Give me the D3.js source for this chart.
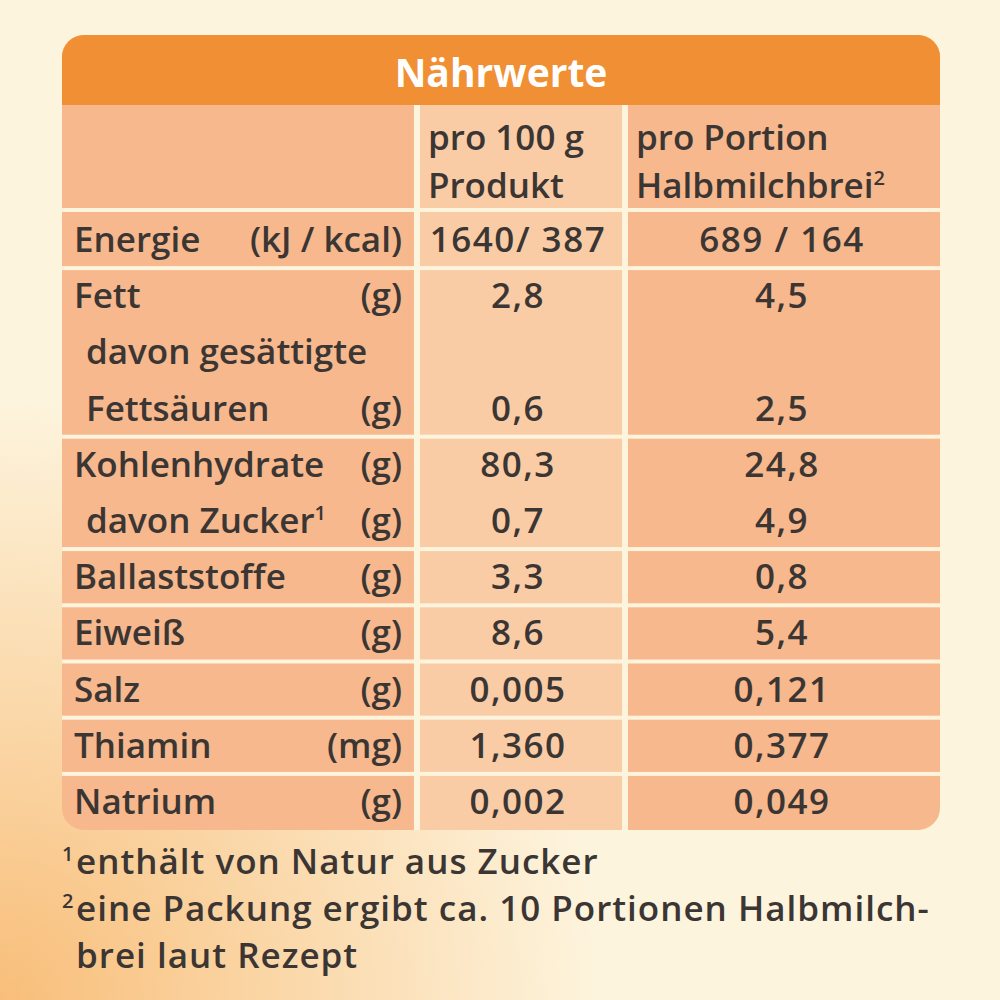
<!DOCTYPE html>
<html><head><meta charset="utf-8">
<script src="https://cdn.jsdelivr.net/npm/d3@7"></script>
<style>body{margin:0;background:#fdf4dd}</style>
</head><body>
<script>
const title = "Nährwerte";
const colHeads = [["pro 100 g","Produkt"],["pro Portion","Halbmilchbrei"]];
const labels = ["Energie","Fett","davon gesättigte","Fettsäuren","Kohlenhydrate","davon Zucker","Ballaststoffe","Eiweiß","Salz","Thiamin","Natrium"];
const units = ["(kJ / kcal)","(g)","","(g)","(g)","(g)","(g)","(g)","(g)","(mg)","(g)"];
const per100 = ["1640/ 387","2,8","","0,6","80,3","0,7","3,3","8,6","0,005","1,360","0,002"];
const perPortion = ["689 / 164","4,5","","2,5","24,8","4,9","0,8","5,4","0,121","0,377","0,049"];
const groupStarts = [0,1,4,6,7,8,9,10];
const footnotes = [["1","enthält von Natur aus Zucker"],["2","eine Packung ergibt ca. 10 Portionen Halbmilch-"],["","brei laut Rezept"]];

const svg = d3.select("body").append("svg").attr("width",1000).attr("height",1000);
const defs = svg.append("defs");
const rg = defs.append("radialGradient").attr("id","bg").attr("cx","0").attr("cy","1").attr("r","0.6");
rg.append("stop").attr("offset","0").attr("stop-color","#f7b060");
rg.append("stop").attr("offset","1").attr("stop-color","#fdf4dd");
svg.append("rect").attr("width",1000).attr("height",1000).attr("fill","#fdf4dd");
svg.append("rect").attr("width",1000).attr("height",1000).attr("fill","url(#bg)").attr("opacity",0.8);

const x0=62,x1=940, c1=418, c2=626;
const y = d3.scalePoint().domain(d3.range(labels.length)).range([240,802]);
const step = y.step();
const font = "'Open Sans', sans-serif";
const txt = "#3b3633";

const clip = defs.append("clipPath").attr("id","tb");
clip.append("rect").attr("x",x0).attr("y",35).attr("width",x1-x0).attr("height",795).attr("rx",22);
const g = svg.append("g").attr("clip-path","url(#tb)");
g.append("rect").attr("x",x0).attr("y",35).attr("width",x1-x0).attr("height",800).attr("fill","#f6b88c");
g.append("rect").attr("x",c1).attr("y",105).attr("width",c2-c1).attr("height",730).attr("fill","#f9cca6");
g.append("rect").attr("x",x0).attr("y",35).attr("width",x1-x0).attr("height",70).attr("fill","#f08f33");
[c1-4,c2-4].forEach(cx=>g.append("rect").attr("x",cx).attr("y",105).attr("width",6).attr("height",730).attr("fill","#fdf4dd"));
const seps = [208].concat(groupStarts.slice(1).map(i=>y(i)-step/2-2));
seps.forEach(sy=>g.append("rect").attr("x",x0).attr("y",sy).attr("width",x1-x0).attr("height",4).attr("fill","#fdf4dd"));

svg.append("text").attr("x",(x0+x1)/2).attr("y",87).attr("text-anchor","middle").attr("fill","#fff")
  .attr("font-family",font).attr("font-weight",700).attr("font-size",39).text(title);

const hs = {"font-family":font,"font-weight":600,"font-size":35,"fill":txt};
function T(x,yy,s,anchor,ls){const t=svg.append("text").attr("x",x).attr("y",yy).attr("text-anchor",anchor||"start");Object.entries(hs).forEach(([k,v])=>t.attr(k,v));if(ls)t.attr("letter-spacing",ls);t.text(s);return t;}
T(428,150,colHeads[0][0]); T(428,198,colHeads[0][1]);
T(636,150,colHeads[1][0]);
const hb=T(636,198,colHeads[1][1]); hb.append("tspan").attr("font-size",20).attr("dy",-13).text("2");

labels.forEach((l,i)=>{
  const yy=y(i)+12;
  const indent = l.startsWith("davon")||l==="Fettsäuren" ? 86 : 74;
  const t=T(indent,yy,l);
  if(l==="davon Zucker") t.append("tspan").attr("font-size",20).attr("dy",-13).text("1");
  if(units[i]) T(402,yy,units[i],"end");
  if(per100[i]) T(518,yy,per100[i],"middle",1.5);
  if(perPortion[i]) T(782,yy,perPortion[i],"middle",1.5);
});

footnotes.forEach((f,i)=>{
  const t=svg.append("text").attr("x",62).attr("y",874+i*47);
  Object.entries(hs).forEach(([k,v])=>t.attr(k,v));
  if(f[0]) t.append("tspan").attr("font-size",20).attr("dy",-13).text(f[0]);
  t.append("tspan").attr("dy",f[0]?13:0).attr("x",76).attr("letter-spacing",1).text(f[1]);
});
</script>
</body></html>
